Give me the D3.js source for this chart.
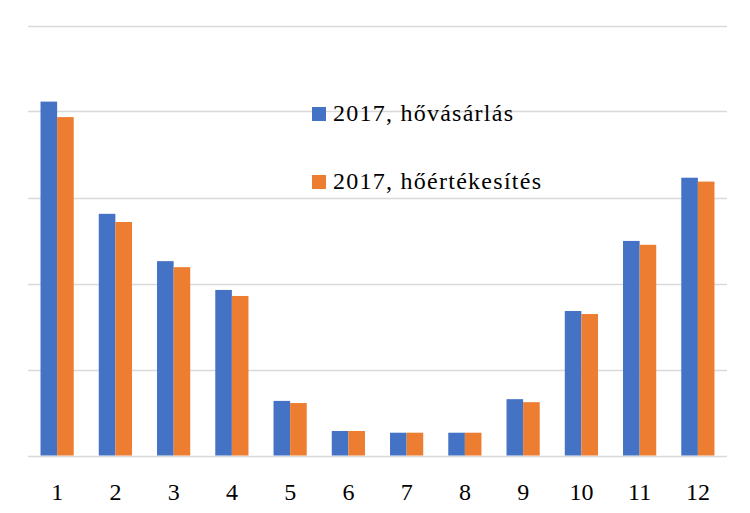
<!DOCTYPE html>
<html><head><meta charset="utf-8">
<script src="https://cdn.jsdelivr.net/npm/d3@7"></script>
<style>body{margin:0;background:#fff}svg{display:block}</style>
</head><body>
<svg id="c" width="750" height="513"></svg>
<script>
const categories = ["1","2","3","4","5","6","7","8","9","10","11","12"];
const seriesNames = ["2017, hővásárlás","2017, hőértékesítés"];
const purchase = [82.3,56.2,45.2,38.5,12.7,5.7,5.3,5.3,13.1,33.6,49.9,64.6];
const sales    = [78.7,54.3,43.8,37.1,12.2,5.7,5.3,5.3,12.4,32.9,49.0,63.7];
const yTicks = [0,20,40,60,80,100];
const colors = ["#4472C4","#ED7D31"];

const svg = d3.select("#c");
const m = {left:28, right:23, top:25.5, bottom:57.5};
const W = 750, H = 513;
const x = d3.scaleBand().domain(categories).range([m.left, W-m.right]).paddingInner(0.43).paddingOuter(0.215);
const y = d3.scaleLinear().domain([0,100]).range([H-m.bottom, m.top]);
const font = "'Palatino Linotype','Book Antiqua',Palatino,'Liberation Serif','DejaVu Serif',serif";

svg.append("g").selectAll("line").data(yTicks).join("line")
  .attr("x1", m.left).attr("x2", W-m.right)
  .attr("y1", d=>Math.round(y(d))+0.5).attr("y2", d=>Math.round(y(d))+0.5)
  .attr("stroke", "#d9d9d9").attr("stroke-width", 1.5);

const data = [purchase, sales];
const xs = d3.scaleBand().domain([0,1]).range([0, x.bandwidth()]);
data.forEach((vals, s) => {
  svg.append("g").selectAll("rect").data(vals).join("rect")
    .attr("x", (d,i)=>x(categories[i]) + xs(s))
    .attr("width", xs.bandwidth())
    .attr("y", d=>y(d))
    .attr("height", d=>y(0)-y(d))
    .attr("fill", colors[s]);
});

const xAxis = d3.axisBottom(x).tickSize(0).tickPadding(0);
const gx = svg.append("g").attr("transform", `translate(0,${y(0)})`).call(xAxis);
gx.select(".domain").remove();
gx.selectAll("text").attr("dy", null).attr("y", 44)
  .style("font-family", font).style("font-size", "24px").attr("fill", "#000");

const legY = [114, 182];
const legW = [180, 208];
const lg = svg.append("g");
seriesNames.forEach((n, i) => {
  lg.append("rect").attr("x", 312).attr("y", legY[i]-7).attr("width", 14).attr("height", 14).attr("fill", colors[i]);
  lg.append("text").attr("x", 333).attr("y", legY[i]+6.5).text(n)
    .attr("textLength", legW[i]).attr("lengthAdjust", "spacing")
    .style("font-family", font).style("font-size", "24px").attr("fill", "#000");
});
</script>
</body></html>
